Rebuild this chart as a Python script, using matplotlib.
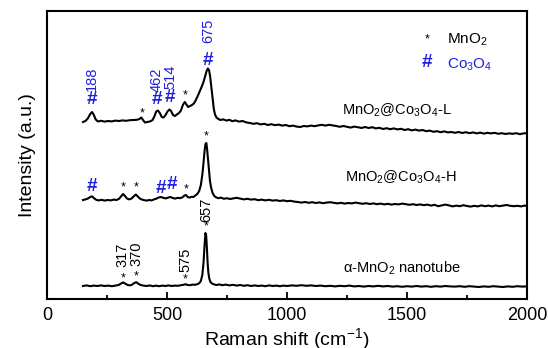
"""
Raman spectra of alpha-MnO2 nanotube and MnO2@Co3O4 composites.
"""

import matplotlib

matplotlib.use("Agg")
import matplotlib.pyplot as plt
from matplotlib.ticker import MultipleLocator

plt.rcParams["font.family"] = ["Liberation Sans", "DejaVu Sans"]
plt.rcParams["mathtext.fontset"] = "custom"
plt.rcParams["mathtext.rm"] = "Liberation Sans"
plt.rcParams["mathtext.it"] = "Liberation Sans:italic"

BLUE = "#1f1fdd"

# MnO2@Co3O4-L (top trace, offset units)
shift_l = [150, 160, 170, 180, 188, 195, 203, 212, 225, 240, 255, 270, 285, 300,
           315, 330, 345, 360, 375, 385, 393, 400, 408, 418, 430, 440, 448, 455,
           462, 470, 478, 486, 494, 502, 510, 517, 525, 533, 541, 550, 558, 566,
           574, 581, 588, 596, 604, 612, 620, 628, 636, 644, 652, 659, 665, 670,
           675, 680, 685, 690, 695, 700, 706, 714, 722, 735, 748, 760, 772, 785,
           800, 815, 830, 845, 860, 875, 890, 905, 920, 935, 950, 965, 980, 995,
           1010, 1025, 1040, 1055, 1070, 1085, 1100, 1115, 1130, 1145, 1160, 1175,
           1190, 1205, 1220, 1235, 1250, 1265, 1280, 1295, 1310, 1325, 1340, 1355,
           1370, 1385, 1400, 1415, 1430, 1445, 1460, 1475, 1490, 1505, 1520, 1535,
           1550, 1565, 1580, 1595, 1610, 1625, 1640, 1655, 1670, 1685, 1700, 1715,
           1730, 1745, 1760, 1775, 1790, 1805, 1820, 1835, 1850, 1865, 1880, 1895,
           1910, 1925, 1940, 1955, 1970, 1985, 2000]
int_l = [177.0, 178.0, 180.5, 185.0, 187.0, 184.0, 179.5, 177.5, 178.2, 177.4,
         178.0, 177.6, 178.4, 178.0, 178.6, 178.2, 178.8, 179.0, 179.2, 180.0,
         181.5, 179.0, 176.5, 177.0, 177.6, 179.0, 183.0, 187.5, 188.5, 186.0,
         182.0, 181.5, 184.0, 187.5, 189.5, 188.0, 184.0, 183.0, 184.5, 186.0,
         188.5, 194.0, 197.0, 194.5, 192.0, 193.0, 194.0, 195.5, 199.0, 203.0,
         207.5, 212.0, 217.0, 223.0, 228.0, 230.5, 229.0, 222.0, 211.0, 199.0,
         190.0, 184.5, 181.5, 180.0, 179.0, 179.6, 178.4, 179.2, 177.8, 178.6,
         177.4, 178.0, 176.6, 176.0, 175.2, 175.8, 174.6, 175.2, 174.0, 174.8,
         173.8, 174.4, 173.4, 174.0, 172.8, 173.4, 172.4, 172.0, 173.0, 172.6,
         173.4, 172.8, 173.6, 174.2, 173.4, 174.2, 173.6, 173.0, 172.2, 173.0,
         172.2, 171.4, 172.4, 171.8, 171.0, 172.0, 171.0, 171.8, 170.6, 171.2,
         170.0, 170.8, 169.8, 170.6, 169.6, 170.2, 169.0, 169.8, 168.6, 169.4,
         168.4, 169.0, 167.8, 168.4, 167.2, 167.8, 166.8, 167.6, 166.6, 167.0,
         166.2, 167.0, 166.0, 166.8, 165.8, 166.6, 165.6, 166.4, 165.4, 166.2,
         165.6, 166.2, 165.2, 165.8, 165.0, 165.6, 165.2, 165.8, 164.8, 165.6,
         165.8]

# MnO2@Co3O4-H (middle trace)
shift_h = [150, 160, 170, 180, 188, 196, 205, 215, 228, 240, 252, 265, 278, 290,
           300, 308, 317, 325, 333, 342, 352, 362, 370, 378, 387, 396, 406, 416,
           426, 436, 446, 456, 466, 475, 484, 494, 504, 514, 524, 534, 544, 554,
           564, 572, 579, 586, 594, 602, 610, 618, 626, 634, 641, 647, 652, 656,
           660, 664, 667, 671, 675, 679, 684, 690, 697, 705, 714, 725, 737, 750,
           762, 775, 790, 805, 820, 835, 850, 865, 880, 895, 910, 925, 940, 955,
           970, 985, 1000, 1015, 1030, 1045, 1060, 1075, 1090, 1105, 1120, 1135,
           1150, 1165, 1180, 1195, 1210, 1225, 1240, 1255, 1270, 1285, 1300, 1315,
           1330, 1345, 1360, 1375, 1390, 1405, 1420, 1435, 1450, 1465, 1480, 1495,
           1510, 1525, 1540, 1555, 1570, 1585, 1600, 1615, 1630, 1645, 1660, 1675,
           1690, 1705, 1720, 1735, 1750, 1765, 1780, 1795, 1810, 1825, 1840, 1855,
           1870, 1885, 1900, 1915, 1930, 1945, 1960, 1975, 1990, 2000]
int_h = [99.0, 99.6, 100.4, 102.0, 102.6, 100.8, 99.2, 98.6, 99.2, 98.4,
         99.0, 98.6, 99.4, 99.0, 100.2, 102.5, 105.0, 103.0, 100.5, 99.6,
         100.4, 102.8, 104.5, 102.6, 100.4, 99.4, 98.8, 98.4, 99.0, 98.6,
         99.6, 100.4, 101.6, 102.0, 101.2, 100.6, 101.4, 102.0, 101.0, 100.4,
         101.2, 100.8, 101.6, 103.4, 104.0, 102.0, 101.4, 102.2, 102.0, 103.5,
         105.0, 108.0, 114.0, 124.0, 136.0, 147.0, 155.0, 156.0, 150.0, 139.0,
         127.0, 118.0, 111.0, 106.0, 103.0, 101.6, 100.8, 101.4, 100.2, 100.8,
         100.0, 100.6, 101.2, 100.4, 99.6, 100.2, 99.4, 99.8, 98.8, 99.4,
         98.6, 99.2, 98.4, 98.8, 98.0, 98.6, 97.8, 98.2, 97.4, 97.0,
         96.4, 97.0, 96.2, 96.8, 96.0, 96.6, 95.8, 96.4, 96.8, 96.2,
         95.6, 96.2, 95.4, 96.0, 95.6, 96.4, 95.8, 95.2, 95.8, 95.0,
         95.6, 94.8, 95.4, 94.6, 95.2, 94.4, 95.0, 94.6, 95.4, 94.8,
         94.2, 94.8, 94.0, 94.6, 93.8, 94.4, 93.4, 94.2, 92.8, 93.6,
         94.4, 93.6, 92.6, 93.4, 92.8, 93.8, 93.0, 92.4, 93.2, 92.6,
         93.6, 92.8, 93.4, 92.6, 93.6, 92.8, 93.4, 94.0, 93.2, 92.8,
         93.2, 92.6, 93.4, 93.0]

# alpha-MnO2 nanotube (bottom trace)
shift_a = [150, 165, 180, 195, 210, 225, 240, 255, 270, 285, 298, 308, 317, 326,
           336, 346, 356, 364, 372, 380, 390, 402, 415, 428, 441, 454, 467, 480,
           493, 506, 519, 532, 545, 558, 568, 577, 586, 596, 606, 616, 626, 634,
           641, 647, 652, 656, 660, 663, 666, 669, 672, 676, 681, 688, 696, 706,
           718, 730, 745, 760, 775, 790, 805, 820, 835, 850, 865, 880, 895, 910,
           925, 940, 955, 970, 985, 1000, 1020, 1040, 1060, 1080, 1100, 1120,
           1140, 1160, 1180, 1200, 1220, 1240, 1260, 1280, 1300, 1320, 1340,
           1360, 1380, 1400, 1420, 1440, 1460, 1480, 1500, 1520, 1540, 1560,
           1580, 1600, 1620, 1640, 1660, 1680, 1700, 1720, 1740, 1760, 1780,
           1800, 1820, 1840, 1860, 1880, 1900, 1920, 1940, 1960, 1980, 2000]
int_a = [13.0, 13.6, 12.8, 13.4, 13.0, 13.6, 13.0, 13.4, 12.8, 13.4,
         14.0, 15.4, 16.6, 15.4, 14.0, 13.6, 14.6, 16.0, 16.8, 15.4,
         14.0, 13.4, 13.0, 13.6, 12.8, 13.4, 12.8, 13.4, 13.0, 13.6,
         13.0, 13.4, 13.2, 13.8, 14.2, 14.8, 14.0, 13.8, 14.4, 14.2,
         14.8, 15.8, 18.0, 24.0, 36.0, 52.0, 66.0, 64.0, 52.0, 37.0,
         27.0, 20.5, 17.0, 15.4, 14.6, 14.0, 14.6, 13.8, 14.4, 13.6,
         14.2, 13.4, 14.0, 13.2, 13.8, 13.0, 13.6, 13.0, 13.4, 12.8,
         13.6, 13.0, 13.4, 12.8, 13.4, 13.0, 13.6, 13.2, 13.8, 13.2,
         13.6, 13.0, 13.4, 12.8, 13.2, 12.6, 13.2, 12.8, 13.4, 12.6,
         13.0, 12.4, 13.0, 12.6, 13.2, 12.6, 13.0, 12.4, 12.8, 12.2,
         12.8, 12.4, 13.0, 12.4, 12.8, 12.2, 12.8, 12.4, 13.0, 12.6,
         12.4, 12.8, 12.2, 12.8, 12.4, 12.0, 12.6, 12.2, 12.8, 12.4,
         12.0, 12.6, 12.2, 12.8, 12.4, 12.6]

# peak markers: (x, y, symbol, color)
marks = [
    (188, 199, "#", BLUE), (458, 199, "#", BLUE), (512, 201, "#", BLUE),
    (395, 186, "*", "black"), (575, 204, "*", "black"), (672, 238, "#", BLUE),
    (188, 112, "#", BLUE), (317, 112, "*", "black"), (370, 112, "*", "black"),
    (476, 110, "#", BLUE), (520, 114, "#", BLUE), (580, 110, "*", "black"),
    (662, 163, "*", "black"),
    (317, 21, "*", "black"), (370, 23, "*", "black"), (575, 20, "*", "black"),
    (662, 73, "*", "black"),
]
peak_labels = [
    (188, 220, "188", BLUE), (455, 219, "462", BLUE), (515, 222, "514", BLUE),
    (672, 268, "675", BLUE),
    (314, 44, "317", "black"), (373, 45, "370", "black"),
    (575, 39, "575", "black"), (662, 89, "657", "black"),
]

fig = plt.figure(figsize=(5.48, 3.48), dpi=100)
ax = fig.add_axes([0.0858, 0.1408, 0.8759, 0.8276])

for xs, ys in [(shift_l, int_l), (shift_h, int_h), (shift_a, int_a)]:
    ax.plot(xs, ys, color="black", linewidth=1.5)

for x, y, s, c in marks:
    if s == "#":
        ax.text(x, y, s, color=c, fontsize=13.5, fontweight="bold",
                ha="center", va="center")
    else:
        ax.text(x, y, s, color=c, fontsize=9, ha="center", va="center")

for x, y, s, c in peak_labels:
    ax.text(x, y, s, color=c, fontsize=10.5, rotation=90,
            ha="center", va="center")

ax.text(1458, 189, r"MnO$_2$@Co$_3$O$_4$-L", fontsize=10.5, ha="center",
        va="center")
ax.text(1475, 122, r"MnO$_2$@Co$_3$O$_4$-H", fontsize=10.5, ha="center",
        va="center")
ax.text(1479, 31, r"α-MnO$_2$ nanotube", fontsize=10.5, ha="center",
        va="center")

# legend drawn as text
ax.text(1583, 260, "*", fontsize=9, ha="center", va="center")
ax.text(1667, 259, r"MnO$_2$", fontsize=11, ha="left", va="center")
ax.text(1583, 236, "#", color=BLUE, fontsize=13.5, fontweight="bold",
        ha="center", va="center")
ax.text(1667, 234, r"Co$_3$O$_4$", color=BLUE, fontsize=11, ha="left",
        va="center")

ax.set_xlim(0, 2000)
ax.set_ylim(0, 288)
ax.xaxis.set_major_locator(MultipleLocator(500))
ax.xaxis.set_minor_locator(MultipleLocator(250))
ax.tick_params(axis="x", which="both", direction="in", top=False,
               labelsize=13, pad=6, width=1.3)
ax.tick_params(axis="x", which="major", length=5)
ax.tick_params(axis="x", which="minor", length=3)
ax.tick_params(axis="y", left=False, labelleft=False)
for spine in ax.spines.values():
    spine.set_linewidth(1.5)

ax.set_xlabel(r"Raman shift (cm$^{-1}$)", fontsize=14, labelpad=1)
ax.set_ylabel("Intensity (a.u.)", fontsize=14, labelpad=8)

fig.savefig("out.png", dpi=100)
